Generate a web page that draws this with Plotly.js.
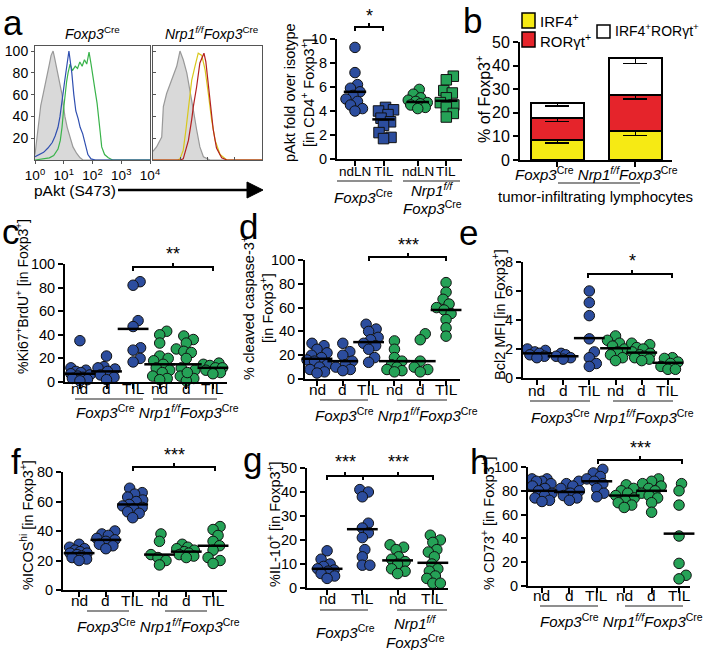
<!DOCTYPE html>
<html><head><meta charset="utf-8">
<script src="https://cdn.plot.ly/plotly-3.0.1.min.js"></script>
<style>html,body{margin:0;padding:0;background:#fff}#chart{width:704px;height:650px}</style>
</head><body><div id="chart"></div>
<script>
// ---------------- DATA ----------------
// Panel a: flow histograms (x = decades of pAkt fluorescence, y = % of max)
const histIsoCreX = [0,0.04,0.08,0.14,0.2,0.28,0.35,0.42,0.5,0.56,0.63,0.68,0.74,0.8,0.87,0.94,1.0,1.04,1.12,1.22,1.32,1.45,1.57,1.67,4];
const histIsoCreY = [5,14,22,40,50,60,70,80,88,96,100,94,86,80,70,60,48,40,30,20,12,6,2,0,0];
const histBlueX = [0,0.15,0.3,0.45,0.6,0.7,0.8,0.87,0.93,0.97,1.03,1.08,1.13,1.18,1.23,1.28,1.35,1.42,1.5,1.57,1.66,1.74,1.84,1.95,2.1,4];
const histBlueY = [3,5,7,11,16,22,30,40,50,60,72,82,90,100,90,80,60,45,38,30,24,16,5,1,0,0];
const histGreenX = [0,0.3,0.5,0.65,0.8,0.88,0.94,1.0,1.04,1.1,1.15,1.22,1.3,1.4,1.48,1.56,1.64,1.72,1.8,1.88,1.95,2.02,2.1,2.16,2.22,2.27,2.32,2.42,2.55,2.7,4];
const histGreenY = [0,1,2,4,10,18,30,48,60,72,80,88,82,86,84,90,86,92,88,99,88,74,62,52,40,25,12,5,2,0,0];
const histIsoNrpX = [0,0.13,0.32,0.38,0.5,0.68,0.87,0.99,1.11,1.24,1.36,1.48,1.6,1.72,1.85,2.09,4];
const histIsoNrpY = [8,12,21,49,61,73,86,100,92,80,61,46,28,12,3,0,0];
const histYellowX = [0,0.9,0.99,1.11,1.21,1.3,1.42,1.54,1.66,1.79,1.91,2.03,2.15,2.28,2.46,2.71,4];
const histYellowY = [0,0,1,9,28,49,73,86,98,96,83,61,37,18,5,0,0];
const histRedX = [0,1.0,1.11,1.3,1.42,1.48,1.6,1.72,1.82,1.87,1.94,2.03,2.09,2.21,2.33,2.52,2.71,4];
const histRedY = [0,0,1,18,37,49,67,89,95,98,90,70,52,28,11,2,0,0];

// Panel a (right): pAkt fold over isotype
const pAktLabels = ['ndLN','TIL','ndLN','TIL'];
const pAktCreNd  = [9.3,7.2,6.2,5.9,5.6,5.3,5.0,4.8,4.5,4.2,4.0];
const pAktCreTil = [4.3,4.1,4.0,3.7,3.4,3.1,2.8,2.2,1.8,1.7];
const pAktNrpNd  = [5.8,5.4,5.1,4.9,4.8,4.7,4.6,4.5,4.3,4.2];
const pAktNrpTil = [6.9,6.6,5.7,5.5,5.1,4.7,4.5,4.3,3.8,3.5];
const pAktMeans  = [5.6,3.3,4.75,4.85];

// Panel b: stacked % of Foxp3+ in TIL
const bGenotypes = ['Foxp3Cre','Nrp1f/fFoxp3Cre'];
const bIRF4 = [8.5,12.5],  bIRF4Err = [1.3,2.1];
const bRORgt = [9.5,15.0], bRORgtErr = [1.6,1.7];
const bDouble = [6.0,15.8], bDoubleErr = [1.1,2.4];

const tissue6 = ['nd','d','TIL','nd','d','TIL'];
// Panel c: %Ki67+BrdU+
const cVals = [
  [35,12,10,9,8,7,6,5,4,3,2,1],
  [22,13,12,11,9,6,4,2],
  [85,82,52,47,29,27,20,17],
  [43,40,33,22,20,18,15,12,10,8,5,3,2],
  [39,36,33,28,26,25,20,12,10,5,3,1,8],
  [16,15,14,12,12,10,8,7]
];
const cMeans = [7,9,45,15,15,12];
// Panel d: % cleaved caspase-3+
const dVals = [
  [30,28,25,22,20,18,16,15,12,10,8,6,5],
  [30,23,20,15,12,10,8,7],
  [46,42,40,35,33,30,28,25,18,14],
  [32,25,18,15,12,10,8,7,6],
  [38,33,15,10,8,6],
  [81,73,67,63,60,58,55,50,43,36]
];
const dMeans = [17,15,31,15,15,58];
// Panel e: Bcl2 MFI
const eVals = [
  [2.0,1.9,1.8,1.7,1.6,1.5,1.4],
  [1.7,1.6,1.5,1.4,1.3],
  [6.0,5.2,4.3,2.7,1.8,1.4,1.0,0.8],
  [2.9,2.6,2.4,2.2,2.0,1.8,1.6,1.4,1.2],
  [2.4,2.3,2.1,2.0,1.8,1.7,1.6,1.5,1.4,1.3,1.2],
  [1.4,1.35,1.1,1.0,0.8,0.6,0.6]
];
const eMeans = [1.7,1.5,2.75,2.05,1.75,1.05];
// Panel f: %ICOShi
const fVals = [
  [31,29,28,27,26,25,25,24,23,22,21,20],
  [40,38,37,35,34,33,31,30,28],
  [69,66,65,63,61,60,58,57,56,55,53,52,49],
  [38,33,24,22,20,17],
  [31,29,28,27,26,25,24,23,22],
  [43,41,37,33,30,27,22,20,18]
];
const fMeans = [25,34,58,24,26,30];
// Panel g: %IL-10+
const gLabels = ['nd','TIL','nd','TIL'];
const gVals = [
  [15.5,12,10,9,8,7.5,7,6,5,4],
  [41,40,38,27,25,23,21,16,13,9.5,9.5],
  [18,17,16,13,12,11,10,8,7,6],
  [22,20,19,16,15,13,10,8,7,5,4,2,2]
];
const gMeans = [8,24.5,11.5,10.5];
// Panel h: % CD73+
const hVals = [
  [90,90,88,88,86,84,82,80,78,76,74,72,71],
  [88,86,84,82,80,78,76,74,72],
  [98,95,92,90,88,86,82,78,75],
  [85,82,80,78,76,74,72,70,68,66],
  [90,88,86,84,82,80,78,76,74,70,62],
  [86,80,68,42,19,9,6]
];
const hMeans = [80,79,88,76,80,44];

// ---------------- LAYOUT HELPERS ----------------
const W = 704, H = 650;
const X = px => px / W;
const Y = py => 1 - py / H;
const FONT = 'Liberation Sans, Arial, sans-serif';
const BLUE = '#2c4d9e', GREEN = '#25a257', EDGE = '#111';
const traces = [];
const layout = {
  width: W, height: H, margin: {l:0, r:0, t:0, b:0},
  paper_bgcolor: '#fff', plot_bgcolor: 'rgba(0,0,0,0)',
  showlegend: false, font: {family: FONT, color: '#000'},
  shapes: [], annotations: []
};
function axName(n){ return n === 1 ? '' : String(n); }
function addAxes(n, xd, yd, xr, yr, xo, yo) {
  const s = axName(n);
  const base = {showline:true, linecolor:'#000', linewidth:2, ticks:'outside', ticklen:5, tickwidth:2,
    tickcolor:'#000', showgrid:false, zeroline:false, fixedrange:true, tickangle:0};
  layout['xaxis'+s] = Object.assign({}, base, {domain:[X(xd[0]), X(xd[1])], range:xr, anchor:'y'+s,
    tickfont:{size:15, color:'#000', family:FONT}}, xo || {});
  layout['yaxis'+s] = Object.assign({}, base, {domain:[Y(yd[1]), Y(yd[0])], range:yr, anchor:'x'+s,
    tickfont:{size:14.5, color:'#000', family:FONT}}, yo || {});
}
function ann(x, y, text, size, extra) {
  layout.annotations.push(Object.assign({xref:'paper', yref:'paper', x:X(x), y:Y(y), text:text,
    showarrow:false, xanchor:'center', yanchor:'middle', font:{size:size, family:FONT, color:'#000'}}, extra || {}));
}
function line(x0, y0, x1, y1, color, w) {
  layout.shapes.push({type:'line', xref:'paper', yref:'paper', x0:X(x0), y0:Y(y0), x1:X(x1), y1:Y(y1),
    line:{color:color || '#000', width:w || 2}});
}
function bracket(downs, y, ups, labels, labelY) {
  const lo = Math.min(...downs), hi = Math.max(...downs);
  line(lo, y, hi, y, '#000', 2);
  downs.forEach(d => line(d, y - 1, d, y + 4, '#000', 2));
  ups.forEach((u, i) => { line(u, y + 1, u, y - 4, '#000', 2); ann(u, labelY, labels[i], 18); });
}
// beeswarm offsets (in data units) computed from the values and the axis scales
function swarm(vals, center, pxPerX, pxPerY, d, maxOff) {
  const order = vals.map((v, i) => i).sort((a, b) => vals[a] - vals[b]);
  const placed = [], out = new Array(vals.length);
  const grid = [];
  for (let k = 0; k <= maxOff * 2; k++) { grid.push(k / 2); if (k) grid.push(-k / 2); }
  order.forEach(i => {
    const y = vals[i] * pxPerY;
    const near = placed.filter(p => Math.abs(p.y - y) < d);
    let best = null, bestScore = -1;
    for (const c of grid) {
      let minD = Infinity;
      near.forEach(p => { minD = Math.min(minD, Math.hypot(p.x - c, p.y - y)); });
      if (minD >= d) { best = c; break; }
      if (minD > bestScore + 0.5) { bestScore = minD; best = c; }
    }
    placed.push({x: best, y: y});
    out[i] = center + best / pxPerX;
  });
  return out;
}
function catLabels(n, pos, labels, y, size) {
  const s = axName(n);
  pos.forEach((p, i) => layout.annotations.push({xref:'x'+s, yref:'paper', x:p, y:Y(y), text:labels[i],
    showarrow:false, xanchor:'center', yanchor:'middle', font:{size:size || 15.5, family:FONT, color:'#000'}}));
}
function dotPanel(n, xd, yd, xr, yr, dtick, pos, groups, means, labels, labelY, colors, symbols, meanSize, labelSize) {
  addAxes(n, xd, yd, xr, yr, {tickvals:pos, showticklabels:false}, {dtick:dtick, tick0:0});
  const s = axName(n);
  const pxX = (xd[1] - xd[0]) / (xr[1] - xr[0]);
  const pxY = (yd[1] - yd[0]) / (yr[1] - yr[0]);
  groups.forEach((g, i) => {
    traces.push({type:'scatter', mode:'markers', xaxis:'x'+s, yaxis:'y'+s, cliponaxis:false,
      x: swarm(g, pos[i], pxX, pxY, 7.5, 10), y: g, hoverinfo:'skip',
      marker:{color:colors[i], size:10.5, symbol:symbols ? symbols[i] : 'circle', line:{color:EDGE, width:1}}});
  });
  traces.push({type:'scatter', mode:'markers', xaxis:'x'+s, yaxis:'y'+s, cliponaxis:false,
    x: pos, y: means, hoverinfo:'skip',
    marker:{symbol:'line-ew', size:meanSize || 22, color:'#000', line:{color:'#000', width:2.5}}});
  catLabels(n, pos, labels, labelY, labelSize);
}
const CRE = '<i>Foxp3</i><sup>Cre</sup>';
const NRP = '<i>Nrp1<sup>f/f</sup>Foxp3</i><sup>Cre</sup>';
const GROUPS = CRE + ' ' + NRP;
const six = [0,1,2,3,4,5];
const col6 = [BLUE,BLUE,BLUE,GREEN,GREEN,GREEN];
const UL = '#6a6a6a';

// ---------------- PANEL a: histograms ----------------
const histAx = {linewidth:1, linecolor:'#555', mirror:true, ticklen:3, tickwidth:1, tickcolor:'#555'};
addAxes(1, [35,150], [46,160], [0,4], [0,104.6],
  Object.assign({}, histAx, {tickvals:[0,1,2,3,4], ticktext:['10<sup>0</sup>','10<sup>1</sup>','10<sup>2</sup>','10<sup>3</sup>','10<sup>4</sup>'], tickfont:{size:13.5, family:FONT, color:'#000'}}),
  Object.assign({}, histAx, {tickvals:[20,40,60,80,100], tickfont:{size:14, family:FONT, color:'#000'}}));
addAxes(2, [153,262], [46,160], [0,4], [0,104.6],
  Object.assign({}, histAx, {tickvals:[0,1,2,3,4], showticklabels:false, ticks:'inside'}),
  Object.assign({}, histAx, {tickvals:[20,40,60,80,100], showticklabels:false, ticks:'inside'}));
function hist(n, x, y, color, fill) {
  const s = axName(n);
  traces.push({type:'scatter', mode:'lines', xaxis:'x'+s, yaxis:'y'+s, x:x, y:y, hoverinfo:'skip',
    line:{color:color, width:1.2}, fill: fill ? 'tozeroy' : 'none', fillcolor:'#d9d9d9'});
}
hist(1, histIsoCreX, histIsoCreY, '#999', true);
hist(1, histGreenX, histGreenY, '#39b34a');
hist(1, histBlueX, histBlueY, '#2f4fb0');
hist(2, histIsoNrpX, histIsoNrpY, '#999', true);
hist(2, histYellowX, histYellowY, '#d8c81c');
hist(2, histRedX, histRedY, '#b3201f');
ann(92, 33, CRE, 14);
ann(212, 33, NRP, 14);
ann(75, 190, 'pAkt (S473)', 15.5);
line(118, 190, 250, 190, '#000', 2.5);
layout.shapes.push({type:'path', xref:'paper', yref:'paper', fillcolor:'#000', line:{color:'#000', width:1},
  path:`M${X(247)},${Y(182)} L${X(263)},${Y(190)} L${X(247)},${Y(198)} Z`});

// ---------------- PANEL a: pAkt dot plot ----------------
dotPanel(3, [337,462], [39,159], [-0.63,3.75], [0,10], 2, [0,1,2.2,3.2],
  [pAktCreNd, pAktCreTil, pAktNrpNd, pAktNrpTil], pAktMeans, pAktLabels, 171,
  [BLUE,BLUE,GREEN,GREEN], ['circle','square','circle','square'], 16, 13.5);
ann(299, 93, 'pAkt fold over isotype<br>[in CD4<sup>+</sup> Foxp3<sup>+</sup>]', 14.5, {textangle:-90});
line(337, 181, 392, 181, UL, 1.5);
line(403, 181, 460, 181, UL, 1.5);
ann(363, 196, CRE, 15);
ann(432, 189, '<i>Nrp1</i><sup><i>f/f</i></sup>', 15);
ann(432, 207, CRE, 15);
bracket([355,383], 27, [369], ['*'], 16);

// ---------------- PANEL b: stacked bars ----------------
addAxes(4, [520,672], [42,160], [-0.48,1.47], [0,50], {tickvals:[0,1], showticklabels:false}, {dtick:10, tick0:0, tickfont:{size:16, family:FONT, color:'#000'}});
function stack(vals, err, color) {
  traces.push({type:'bar', xaxis:'x4', yaxis:'y4', x:[0,1], y:vals, width:0.68, hoverinfo:'skip',
    marker:{color:color, line:{color:'#000', width:2}},
    error_y:{type:'data', symmetric:false, array:[0,0], arrayminus:err, color:'#000', thickness:1.5, width:12}});
}
stack(bIRF4, bIRF4Err, '#f6ea14');
stack(bRORgt, bRORgtErr, '#e5242b');
stack(bDouble, bDoubleErr, '#ffffff');
layout.barmode = 'stack';
ann(483, 100, '% of Foxp3<sup>+</sup>', 16, {textangle:-90});
ann(596, 173, GROUPS, 15);
line(558, 183, 640, 183, UL, 1.5);
ann(595, 197, 'tumor-infiltrating lymphocytes', 15);
function swatch(x0, y0, x1, y1, color) {
  layout.shapes.push({type:'rect', xref:'paper', yref:'paper', x0:X(x0), y0:Y(y1), x1:X(x1), y1:Y(y0),
    fillcolor:color, line:{color:'#000', width:1.5}});
}
swatch(522, 13, 535, 28, '#f6ea14');
swatch(522, 32, 535, 47, '#e5242b');
swatch(597, 25, 610, 38, '#ffffff');
ann(538, 20, 'IRF4<sup>+</sup>', 15, {xanchor:'left'});
ann(538, 40, 'RORγt<sup>+</sup>', 15, {xanchor:'left'});
ann(613, 30, 'IRF4<sup>+</sup>RORγt<sup>+</sup>', 14, {xanchor:'left'});

// ---------------- PANELS c-h ----------------
dotPanel(5, [65,227], [264,382], [-0.56,5.53], [0,100], 20, six, cVals, cMeans, tissue6, 388, col6);
ann(22, 297, '%Ki67<sup>+</sup>BrdU<sup>+</sup> [in Foxp3<sup>+</sup>]', 14, {textangle:-90});
line(75, 399, 143, 399, UL, 1.5); line(153, 399, 217, 399, UL, 1.5);
ann(157, 411, GROUPS, 15);
bracket([133,213], 267, [173], ['**'], 254);

dotPanel(6, [305,460], [260,379], [-0.465,5.54], [0,100], 20, six, dVals, dMeans, tissue6, 389, col6);
ann(257, 308, '% cleaved caspase-3<sup>+</sup><br>[in Foxp3<sup>+</sup>]', 14.5, {textangle:-90});
line(320, 400, 368, 400, UL, 1.5); line(397, 400, 447, 400, UL, 1.5);
ann(396, 415, GROUPS, 15);
bracket([369,446], 257, [408], ['***'], 245);

dotPanel(7, [523,680], [262,378], [-0.53,5.46], [0,8], 2, six, eVals, eMeans, tissue6, 390, col6);
ann(499, 315, 'Bcl2 MFI [in Foxp3<sup>+</sup>]', 14.5, {textangle:-90});
line(530, 401, 590, 401, UL, 1.5); line(613, 401, 673, 401, UL, 1.5);
ann(612, 416, GROUPS, 15);
bracket([588,672], 274, [632], ['*'], 261);

dotPanel(8, [63,227], [472,590], [-0.6,5.52], [0,80], 20, six, fVals, fMeans, tissue6, 600, col6);
ann(27, 525, '%ICOS<sup>hi</sup> [in Foxp3<sup>+</sup>]', 14.5, {textangle:-90});
line(87, 611, 129, 611, UL, 1.5); line(165, 611, 207, 611, UL, 1.5);
ann(158, 625, GROUPS, 15);
bracket([133,215], 467, [174], ['***'], 455);

dotPanel(9, [307,448], [468,588], [-0.57,3.43], [0,50], 10, [0,1,2,3], gVals, gMeans, gLabels, 598, [BLUE,BLUE,GREEN,GREEN]);
ann(274, 524, '%IL-10<sup>+</sup> [in Foxp3<sup>+</sup>]', 14.5, {textangle:-90});
line(320, 610, 368, 610, UL, 1.5); line(397, 610, 447, 610, UL, 1.5);
ann(345, 631, CRE, 15);
ann(415, 622, '<i>Nrp1</i><sup><i>f/f</i></sup>', 15);
ann(415, 641, CRE, 15);
bracket([327,363,433], 476, [345,398], ['***','***'], 462);

dotPanel(10, [528,690], [467,586], [-0.51,5.4], [0,100], 20, six, hVals, hMeans, tissue6, 595, col6);
ann(488, 523, '% CD73<sup>+</sup> [in Foxp3<sup>+</sup>]', 14.5, {textangle:-90});
line(540, 606, 598, 606, UL, 1.5); line(625, 606, 683, 606, UL, 1.5);
ann(621, 620, GROUPS, 15);
bracket([598,682], 460, [640], ['***'], 448);

// panel letters
[['a',13,22],['b',472,21],['c',11,231],['d',248,226],['e',468,233],['f',16,461],['g',252,459],['h',480,461]]
  .forEach(l => ann(l[1], l[2], l[0], 35));

Plotly.newPlot('chart', traces, layout, {staticPlot:true, displayModeBar:false});
</script></body></html>
